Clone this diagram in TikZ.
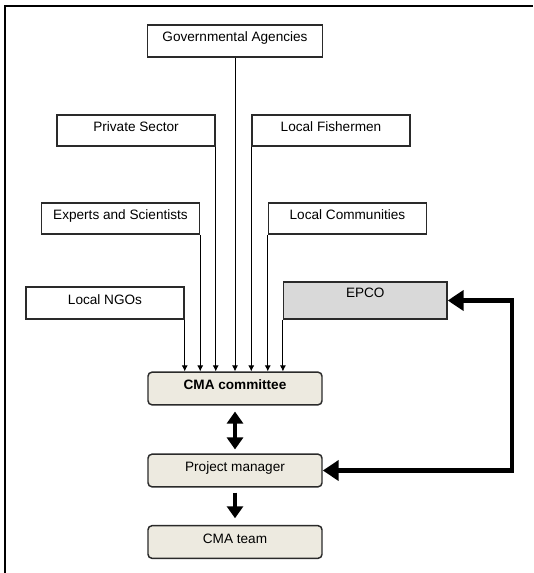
\documentclass[tikz,border=0pt]{standalone}
\usepackage{fontspec}
\setmainfont{Liberation Sans}
\usetikzlibrary{arrows, arrows.meta}
\usetikzlibrary{calc}

\definecolor{boxfill}{HTML}{EDEAE0}
\definecolor{epcofill}{HTML}{D9D9D9}
\definecolor{boxline}{HTML}{2A2A2A}

\begin{document}
\begin{tikzpicture}[x=0.75pt, y=-0.75pt,
    font=\fontsize{10.2}{12}\selectfont,
    stake/.style={rectangle, draw=boxline, line width=1.1pt, inner sep=0pt, minimum width=118.5pt, minimum height=23.5pt, text height=8pt, text depth=6.5pt},
    core/.style={stake, rounded corners=3pt, fill=boxfill, minimum width=130.5pt, minimum height=24.5pt},
    feed/.style={-{Latex[length=4.5pt, width=4.5pt]}, line width=0.7pt},
    heavy/.style={line width=3.6pt, line join=miter}]
      \useasboundingbox (0,0) rectangle (533,573);
      \draw[line width=1pt] (5,573) |- (533,6);

      \node[stake, minimum width=131.25pt, minimum height=24pt] (gov) at (235,41) {Governmental Agencies};
      \node[stake] (private) at (136,130.5) {Private Sector};
      \node[stake] (fisher) at (331,130.5) {Local Fishermen};
      \node[stake] (experts) at (120.5,218.5) {Experts and Scientists};
      \node[stake] (communities) at (347.5,218.5) {Local Communities};
      \node[stake, minimum height=24pt] (ngos) at (105,303) {Local NGOs};
      \node[stake, fill=epcofill, minimum width=122.5pt, minimum height=27.75pt, text depth=12pt] (epco) at (365.3,300.5) {EPCO};

      \node[core, font=\fontsize{10.2}{12}\selectfont\bfseries] (committee) at (235,388.5) {CMA committee};
      \node[core] (manager) at (235,470.5) {Project manager};
      \node[core] (team) at (235,542) {CMA team};
      \coordinate (loop) at (512,300.5);

      \draw[feed] (ngos.south east) -- (ngos.south east |- committee.north);
      \draw[feed] (experts.south east) -- (experts.south east |- committee.north);
      \draw[feed] (private.south east) -- (private.south east |- committee.north);
      \draw[feed] (gov.south) -- (gov.south |- committee.north);
      \draw[feed] (fisher.south west) -- (fisher.south west |- committee.north);
      \draw[feed] (communities.south west) -- (communities.south west |- committee.north);
      \draw[feed] (epco.south west) -- (epco.south west |- committee.north);

      \draw[heavy, {Triangle[length=9pt, width=12pt]}-{Triangle[length=9pt, width=12pt]}, shorten <=4.5pt, shorten >=3pt] (committee) -- (manager);
      \draw[heavy, -{Triangle[length=9pt, width=12pt]}, shorten <=3.75pt, shorten >=5pt] (manager) -- (team);
      \draw[heavy, {Triangle[length=12pt, width=15pt]}-{Triangle[length=12pt, width=15pt]}] (epco.east) -- (loop) |- (manager.east);
    \end{tikzpicture}
\end{document}
